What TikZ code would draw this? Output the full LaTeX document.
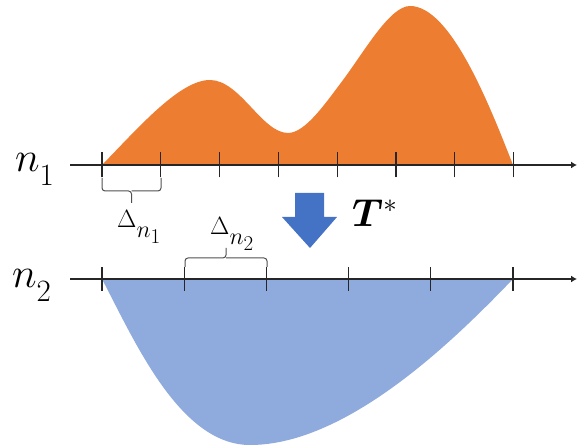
\RequirePackage{fix-cm}
\documentclass[tikz,border=0pt]{standalone}
\usepackage{amsmath,bm}
\usetikzlibrary{arrows.meta, positioning}
\definecolor{morange}{HTML}{ED7D31}
\definecolor{mblue}{HTML}{8FAADC}
\definecolor{marrow}{HTML}{4472C4}
\definecolor{mbrace}{HTML}{505050}
\DeclareMathSizes{42}{42}{31}{24}
\DeclareMathSizes{25}{25}{24}{21}
\DeclareMathSizes{39}{39}{27}{20}
\newcommand{\dropsub}[2]{\raisebox{-#1}{$\scriptstyle #2$}}
\tikzset{
  axisline/.style={line width=1.3pt, black!85, -{Latex[length=6pt,width=7pt]}},
  tickmark/.style={line width=1.3pt, black!85},
  bracepath/.style={line width=1pt, mbrace, rounded corners=3pt},
  gridlabel/.style={font=\fontsize{42}{42}\selectfont, anchor=base west, inner sep=0pt},
  steplabel/.style={font=\fontsize{25}{25}\selectfont, anchor=base west, inner sep=0pt},
}

\begin{document}
\begin{tikzpicture}[x=1pt, y=1pt]
  \useasboundingbox (0,0) rectangle (577,446);

  %% densities
  \fill[morange] (102,281) .. controls (140,320) and (180,366) .. (210,366)
    .. controls (240,366) and (262,313) .. (288,313)
    .. controls (305,313) and (325,342) .. (343,366)
    .. controls (365,395.5) and (390,440) .. (410,440)
    .. controls (450,440) and (488,345) .. (513,281) -- cycle;
  \fill[mblue] (102,167) .. controls (135,104) and (180,1) .. (250,1)
    .. controls (350,1) and (460,112) .. (513,167) -- cycle;

  %% axes
  \coordinate (top0) at (70,281);
  \coordinate (top1) at (577,281);
  \coordinate (bot0) at (70,167);
  \coordinate (bot1) at (577,167);
  \draw[axisline] (top0) -- (top1);
  \draw[axisline] (bot0) -- (bot1);
  \foreach \i in {0,...,7}
    \draw[tickmark] ({102+58.8*\i},268.5) -- ++(0,25);
  \foreach \i in {0,...,5}
    \draw[tickmark] ({102+82.2*\i},155) -- ++(0,24);

  \node[gridlabel] (n1) at (15,274) {$n_{\dropsub{7pt}{1}}$};
  \node[gridlabel] (n2) at (12,158) {$n_{\dropsub{7pt}{2}}$};

  %% step sizes
  \coordinate (s1a) at (102,268);
  \coordinate (s1b) at (161,268);
  \coordinate (s1m) at (131.5,255);
  \coordinate (s1t) at (131.5,243);
  \draw[bracepath] (s1a) |- (s1m) -- (s1t);
  \draw[bracepath] (s1b) |- (s1m);
  \node[steplabel] (d1) at (117,218) {$\Delta_{\dropsub{6pt}{n_1}}$};

  \coordinate (s2a) at (185,179);
  \coordinate (s2b) at (267,179);
  \coordinate (s2m) at (226,188);
  \coordinate (s2t) at (226,198);
  \draw[bracepath] (s2a) |- (s2m) -- (s2t);
  \draw[bracepath] (s2b) |- (s2m);
  \node[steplabel] (d2) at (210,211) {$\Delta_{\dropsub{6pt}{n_2}}$};

  %% map
  \fill[marrow] (295,253) -- (324,253) -- (324,229) -- (337,229)
    -- (310,198) -- (282,229) -- (295,229) -- cycle;
  \node[font=\fontsize{39}{39}\selectfont, anchor=base west, inner sep=0pt] (tmap) at (352,219) {$\bm{T}^{*}$};
\end{tikzpicture}
\end{document}
